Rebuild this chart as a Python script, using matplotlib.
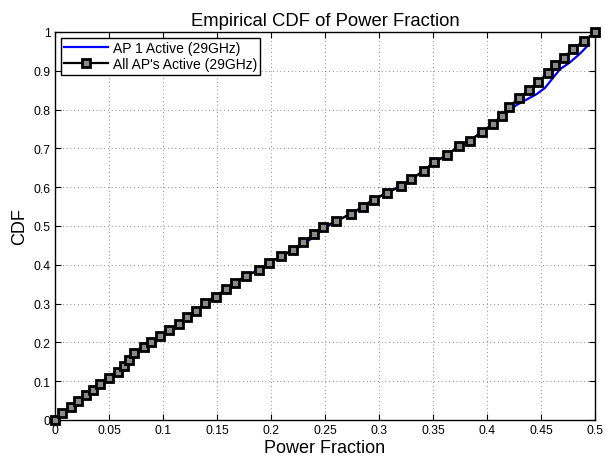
import numpy as np
import matplotlib
matplotlib.use("Agg")
import matplotlib.pyplot as plt

# -----------------------------
# Data
# -----------------------------
# "All AP's Active (29GHz)" - marker points
all_x = [0.0, 0.0068, 0.0145, 0.0216, 0.029, 0.0355, 0.042, 0.050, 0.058, 0.064,
         0.0685, 0.0735, 0.082, 0.089, 0.097, 0.106, 0.1145, 0.1225, 0.1306, 0.139,
         0.149, 0.158, 0.167, 0.1769, 0.1889, 0.198, 0.2093, 0.220, 0.230, 0.2398,
         0.2485, 0.2605, 0.2738, 0.2855, 0.2954, 0.307, 0.320, 0.330, 0.3417, 0.3509,
         0.3627, 0.3738, 0.3843, 0.3954, 0.4059, 0.4136, 0.4207, 0.4296, 0.4389, 0.4475,
         0.4562, 0.4633, 0.4710, 0.4793, 0.4901, 0.5]
all_y = [0.0, 0.018, 0.034, 0.048, 0.065, 0.078, 0.093, 0.108, 0.123, 0.138,
         0.155, 0.172, 0.187, 0.202, 0.217, 0.233, 0.247, 0.265, 0.282, 0.302,
         0.318, 0.337, 0.354, 0.372, 0.386, 0.405, 0.422, 0.439, 0.458, 0.479,
         0.497, 0.513, 0.531, 0.550, 0.568, 0.585, 0.602, 0.621, 0.643, 0.664,
         0.683, 0.705, 0.720, 0.743, 0.763, 0.784, 0.8075, 0.830, 0.851, 0.872,
         0.894, 0.916, 0.933, 0.956, 0.978, 1.0]

# "AP 1 Active (29GHz)"
ap1_x = [0.0, 0.01, 0.02, 0.03, 0.04, 0.05, 0.06, 0.07, 0.08, 0.09,
         0.10, 0.11, 0.12, 0.13, 0.14, 0.15, 0.16, 0.17, 0.18, 0.19,
         0.20, 0.21, 0.22, 0.23, 0.24, 0.25, 0.26, 0.27, 0.28, 0.29,
         0.30, 0.31, 0.32, 0.33, 0.34, 0.35, 0.36, 0.37, 0.38, 0.39,
         0.40, 0.41, 0.4213, 0.4275, 0.4367, 0.446, 0.4537, 0.460, 0.4676, 0.4769,
         0.486, 0.4944]
ap1_y = [0.0, 0.022, 0.045, 0.07, 0.092, 0.112, 0.13, 0.16, 0.183, 0.203,
         0.222, 0.24, 0.26, 0.281, 0.302, 0.32, 0.341, 0.36, 0.376, 0.389,
         0.408, 0.423, 0.436, 0.452, 0.473, 0.495, 0.512, 0.526, 0.541, 0.56,
         0.575, 0.59, 0.603, 0.62, 0.64, 0.662, 0.678, 0.697, 0.714, 0.732,
         0.752, 0.775, 0.800, 0.812, 0.826, 0.840, 0.856, 0.878, 0.904, 0.922,
         0.944, 0.968]

x_ticks = [0, 0.05, 0.1, 0.15, 0.2, 0.25, 0.3, 0.35, 0.4, 0.45, 0.5]
x_tick_labels = ["0", "0.05", "0.1", "0.15", "0.2", "0.25", "0.3", "0.35", "0.4", "0.45", "0.5"]
y_ticks = [0, 0.1, 0.2, 0.3, 0.4, 0.5, 0.6, 0.7, 0.8, 0.9, 1]
y_tick_labels = ["0", "0.1", "0.2", "0.3", "0.4", "0.5", "0.6", "0.7", "0.8", "0.9", "1"]

# -----------------------------
# Plot
# -----------------------------
plt.rcParams["font.family"] = ["Liberation Sans", "DejaVu Sans"]

fig = plt.figure(figsize=(6.05, 4.64), dpi=100)
ax = fig.add_axes([0.0909, 0.0927, 0.8926, 0.8362])

ax.plot(ap1_x, ap1_y, color="#0000ff", lw=1.6, label="AP 1 Active (29GHz)", zorder=3)
ax.plot(all_x, all_y, color="black", lw=1.6, marker="s", markersize=5.2,
        markerfacecolor="#8a8a8a", markeredgecolor="black", markeredgewidth=2.0,
        label="All AP's Active (29GHz)", zorder=4, clip_on=False)

ax.set_xlim(0, 0.5)
ax.set_ylim(0, 1)
ax.set_xticks(x_ticks)
ax.set_xticklabels(x_tick_labels)
ax.set_yticks(y_ticks)
ax.set_yticklabels(y_tick_labels)
ax.tick_params(direction="in", top=True, right=True, length=4, width=0.8,
               labelsize=8.7, pad=3)
ax.grid(True, linestyle=(0, (1, 3.5)), color="black", lw=0.6, alpha=0.6)
for s in ax.spines.values():
    s.set_linewidth(1.0)

ax.set_title("Empirical CDF of Power Fraction", fontsize=13.3, pad=5)
ax.set_xlabel("Power Fraction", fontsize=13, labelpad=2)
ax.set_ylabel("CDF", fontsize=13, labelpad=4)

leg = ax.legend(loc="upper left", fontsize=10, fancybox=False, framealpha=1,
                edgecolor="black", handlelength=3.2, borderpad=0.25,
                labelspacing=0.15, handletextpad=0.3, borderaxespad=0.4)
leg.get_frame().set_linewidth(1.0)

fig.savefig("out.png", dpi=100)
